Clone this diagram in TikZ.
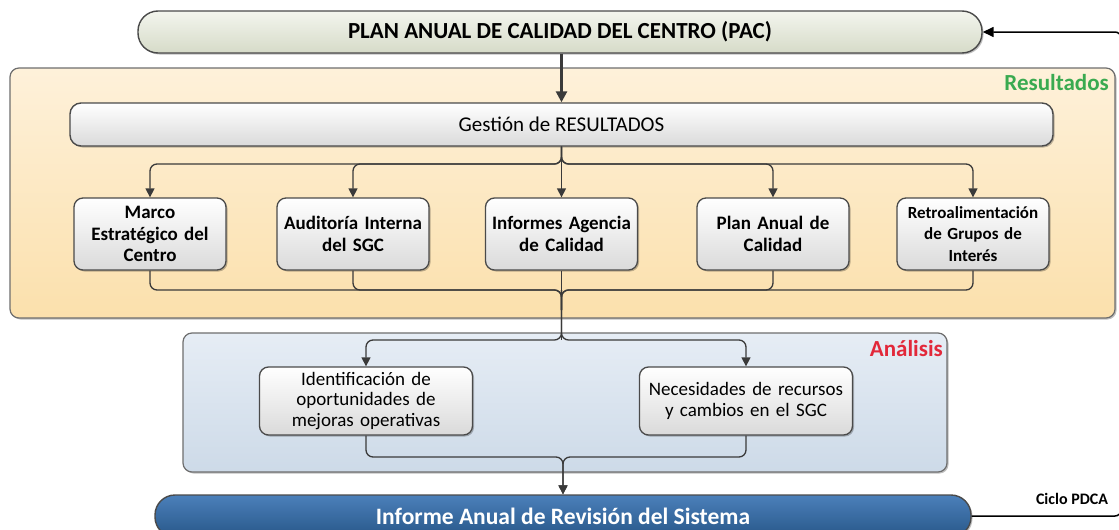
\documentclass[tikz,border=0pt]{standalone}
\usepackage{fontspec}
\setmainfont{Carlito}
\usetikzlibrary{arrows.meta,calc,shadows}
\definecolor{linec}{HTML}{3A3A3A}
\definecolor{boxline}{HTML}{4A4A4A}
\definecolor{boxbot}{HTML}{DADADA}
\definecolor{pactop}{HTML}{F3F5EE}
\definecolor{pacbot}{HTML}{D6DBC8}
\definecolor{ortop}{HTML}{FEF1DA}
\definecolor{orbot}{HTML}{FBE0AC}
\definecolor{bltop}{HTML}{E6EDF5}
\definecolor{blbot}{HTML}{CDDAE8}
\definecolor{inftop}{HTML}{4B80BA}
\definecolor{infbot}{HTML}{285789}
\definecolor{resgreen}{HTML}{3AAA50}
\definecolor{anared}{HTML}{E2283A}
\tikzset{
  conn/.style={draw=linec, line width=1.3pt, rounded corners=7pt},
  arr/.style={conn, -{Triangle[length=9pt,width=9pt]}},
  bigarr/.style={draw=linec, line width=2.6pt, -{Triangle[length=11pt,width=11pt]}},
  shad/.style={drop shadow={shadow xshift=1.5pt, shadow yshift=-1.5pt, opacity=0.25, fill=black}},
  pill/.style={draw=boxline, line width=1.4pt, rounded corners=20pt, minimum height=42pt, shad},
  container/.style={draw=boxline!80, line width=1.2pt, rounded corners=9pt, shad},
  resbox/.style={draw=boxline, line width=1.3pt, rounded corners=9pt, top color=white, bottom color=boxbot, minimum width=152pt, minimum height=72pt, text width=150pt, inner xsep=1pt, align=center, font=\bfseries\fontsize{19}{21.5}\selectfont, shad},
  anabox/.style={draw=boxline, line width=1.3pt, rounded corners=9pt, top color=white, bottom color=boxbot, minimum width=213pt, minimum height=68pt, text width=207pt, inner xsep=2pt, align=center, font=\fontsize{19}{20.5}\selectfont, shad},
}
\begin{document}
\begin{tikzpicture}[x=1pt,y=-1pt]
\clip (0,0) rectangle (1119,530);
\fill[white] (0,0) rectangle (1119,530);
% containers
\node[container, top color=ortop, bottom color=orbot, minimum width=1105pt, minimum height=250pt] (orange) at (562.5,193) {};
\node[anchor=north east, text=resgreen, font=\bfseries\fontsize{23}{26}\selectfont, inner sep=0pt] (reslabel) at (1109,74) {Resultados};
\node[container, top color=bltop, bottom color=blbot, minimum width=764pt, minimum height=139pt] (blue) at (565,402.5) {};
\node[anchor=north east, text=anared, font=\bfseries\fontsize{23}{26}\selectfont, inner sep=0pt] (analabel) at (943,340) {Análisis};
% top pill
\node[pill, top color=pactop, bottom color=pacbot, minimum width=844pt, font=\bfseries\fontsize{23}{26}\selectfont] (pac) at (560,32) {PLAN ANUAL DE CALIDAD DEL CENTRO (PAC)};
% gestion
\node[draw=boxline, line width=1.4pt, rounded corners=11pt, top color=white, bottom color=boxbot, minimum width=983pt, minimum height=43pt, font=\fontsize{21}{24}\selectfont, shad] (gest) at (561.5,124.5) {Gestión de RESULTADOS};
% boxes
\node[resbox] (b1) at (150,234) {Marco\\Estratégico del\\Centro};
\node[resbox] (b2) at (353,234) {Auditoría Interna\\del SGC};
\node[resbox] (b3) at (561.5,234) {Informes Agencia\\de Calidad};
\node[resbox] (b4) at (773,234) {Plan Anual de\\Calidad};
\node[resbox, font=\bfseries\fontsize{17}{21.5}\selectfont] (b5) at (973,234) {Retroalimentación\\de Grupos de\\Interés};
% analysis boxes
\node[anabox] (a1) at (366,401) {Identificación de\\oportunidades de\\mejoras operativas};
\node[anabox] (a2) at (746,401) {Necesidades de recursos\\y cambios en el SGC};
% bottom pill
\node[pill, top color=inftop, bottom color=infbot, minimum width=816pt, text=white, font=\bfseries\fontsize{23.5}{26}\selectfont] (inf) at (563,516) {Informe Anual de Revisión del Sistema};
\node[font=\bfseries\fontsize{16}{18}\selectfont, inner sep=1pt] (pdca) at (1072,499) {Ciclo PDCA};
% coordinates
\coordinate (bus1) at (561.5,164);
\coordinate (bus2) at (561.5,290);
\coordinate (bus3) at (561.5,340);
\coordinate (bus4) at (561.5,457);
\coordinate (fbb) at (1121,516);
% connectors
\draw[bigarr] (pac.south -| gest.north) -- (gest.north);
\foreach \b in {b1,b2,b4,b5}{
  \draw[arr] (gest.south -| bus1) -- (bus1) -| (\b.north);
  \draw[conn] (\b.south) -- (\b.south |- bus2) -| ($(bus2)+(0,20)$);
}
\draw[arr] (gest.south -| b3.north) -- (b3.north);
\draw[conn] (b3.south) -- (bus3);
\draw[arr] (bus2) -- (bus3) -| (a1.north);
\draw[arr] (bus2) -- (bus3) -| (a2.north);
\draw[arr] (a1.south) -- (a1.south |- bus4) -| (inf.north);
\draw[arr] (a2.south) -- (a2.south |- bus4) -| (inf.north);
\draw[draw=black, line width=1.5pt, rounded corners=6pt, -{Triangle[length=11pt,width=10pt]}] (inf.east) -- (fbb) |- (pac.east);
\end{tikzpicture}
\end{document}
